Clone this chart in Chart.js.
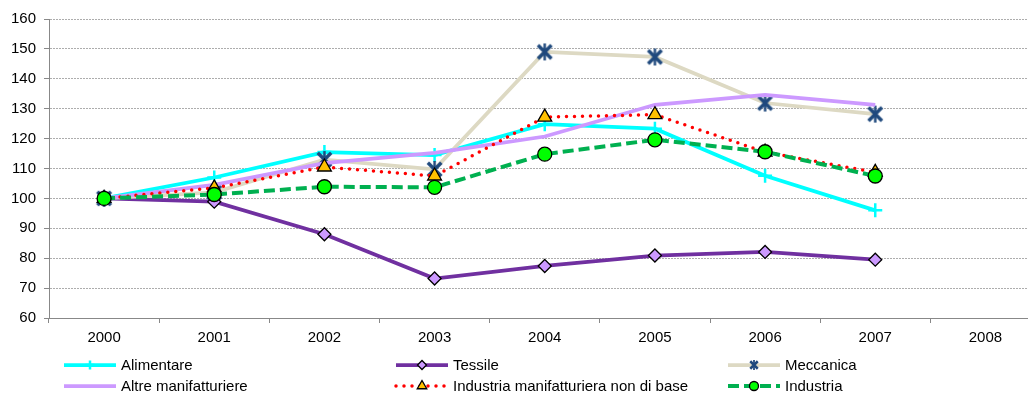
<!DOCTYPE html>
<html>
<head>
<meta charset="utf-8">
<script src="https://cdn.jsdelivr.net/npm/chart.js@4.4.1/dist/chart.umd.min.js"></script>
<style>
    html, body { margin: 0; padding: 0; background: #fff; overflow: hidden; }
    #wrap { width: 1050px; height: 394px; }
</style>
</head>
<body>
<div id="wrap"><canvas id="chart" width="1050" height="394"></canvas></div>
<script>
// Indici 2000 = 100
const years = ['2000', '2001', '2002', '2003', '2004', '2005', '2006', '2007', '2008'];
const alimentare = [100, 107, 115.5, 114.5, 124.8, 123.3, 107.6, 96];
const tessile = [100, 98.9, 88, 73.2, 77.4, 80.9, 82.1, 79.5];
const meccanica = [100, 102, 113, 109.7, 149, 147.3, 131.9, 128.2];
const altre = [100, 104.5, 111.8, 115.2, 120.7, 131.3, 134.6, 131.3];
const nonDiBase = [100, 103.5, 110.5, 107.5, 127.2, 128, 115.5, 108.7];
const industria = [100, 101.3, 103.9, 103.7, 114.8, 119.6, 115.6, 107.5];

const FONT = '"Liberation Sans", Arial, sans-serif';

// Excel style star marker (X + short vertical bar)
function makeStar(size, color, width) {
    const c = document.createElement('canvas');
    c.width = size;
    c.height = size;
    const g = c.getContext('2d');
    const m = width / 2 + 1;
    g.strokeStyle = color;
    g.lineWidth = width;
    g.lineCap = 'butt';
    g.beginPath();
    g.moveTo(m, m); g.lineTo(size - m, size - m);
    g.moveTo(size - m, m); g.lineTo(m, size - m);
    g.stroke();
    g.lineWidth = width * 0.7;
    g.beginPath();
    g.moveTo(size / 2, 1); g.lineTo(size / 2, size - 1);
    g.stroke();
    return c;
}

const starBig = makeStar(19, '#1f497d', 3.5);
const starSmall = makeStar(12, '#1f497d', 2.5);

const datasets = [
    {
        label: 'Alimentare',
        data: alimentare,
        borderColor: '#00ffff',
        borderWidth: 3.75,
        pointStyle: 'cross',
        pointRadius: 7,
        pointBorderColor: '#00ffff',
        pointBackgroundColor: '#00ffff',
        pointBorderWidth: 2.5,
        legendRadius: 4.5
    },
    {
        label: 'Tessile',
        data: tessile,
        borderColor: '#7030a0',
        borderWidth: 3.75,
        pointStyle: 'rectRot',
        pointRadius: 6.5,
        pointBorderColor: '#000',
        pointBackgroundColor: '#cc99ff',
        pointBorderWidth: 1.3,
        legendRadius: 4.5
    },
    {
        label: 'Meccanica',
        data: meccanica,
        borderColor: '#ddd9c3',
        borderWidth: 3.75,
        pointStyle: starBig,
        pointRadius: 8,
        pointBorderWidth: 0,
        legendStyle: starSmall,
        legendRadius: 5
    },
    {
        label: 'Altre manifatturiere',
        data: altre,
        borderColor: '#cc99ff',
        borderWidth: 3.75,
        pointRadius: 0,
        legendRadius: 0
    },
    {
        label: 'Industria manifatturiera non di base',
        data: nonDiBase,
        borderColor: '#ff0000',
        borderWidth: 3.5,
        borderDash: [0, 8],
        borderCapStyle: 'round',
        pointStyle: 'triangle',
        pointRadius: 8,
        pointBorderColor: '#000',
        pointBackgroundColor: '#ffc000',
        pointBorderWidth: 1.3,
        legendRadius: 5.5
    },
    {
        label: 'Industria',
        data: industria,
        borderColor: '#00b050',
        borderWidth: 4,
        borderDash: [11, 5],
        pointStyle: 'circle',
        pointRadius: 7,
        pointBorderColor: '#000',
        pointBackgroundColor: '#00ff00',
        pointBorderWidth: 1.3,
        legendRadius: 4.5
    }
];

// later series on top, as in the original
datasets.forEach((ds, i) => {
    ds.order = datasets.length - i;
    ds.fill = false;
    ds.tension = 0;
    ds.pointHoverRadius = ds.pointRadius;
});

// three-column legend under the axis
const gridLegend = {
    id: 'gridLegend',
    afterDraw(chart) {
        const ctx = chart.ctx;
        const colX = [64, 396, 728];
        const rowY = [365, 386];
        chart.data.datasets.forEach((ds, i) => {
            const x = colX[i % 3];
            const y = rowY[Math.floor(i / 3)];
            ctx.save();
            ctx.strokeStyle = ds.borderColor;
            ctx.lineWidth = ds.borderWidth;
            ctx.lineCap = ds.borderCapStyle || 'butt';
            ctx.setLineDash(ds.borderDash || []);
            ctx.beginPath();
            ctx.moveTo(x, y);
            ctx.lineTo(x + 52, y);
            ctx.stroke();
            ctx.setLineDash([]);
            if (ds.legendRadius > 0) {
                ctx.fillStyle = ds.pointBackgroundColor || '#000';
                ctx.strokeStyle = ds.pointBorderColor || '#000';
                ctx.lineWidth = ds.pointBorderWidth || 0;
                Chart.helpers.drawPoint(ctx, {
                    pointStyle: ds.legendStyle || ds.pointStyle,
                    radius: ds.legendRadius,
                    borderWidth: ds.pointBorderWidth || 0,
                    rotation: 0
                }, x + 26, y);
            }
            ctx.fillStyle = '#000';
            ctx.font = '15px ' + FONT;
            ctx.textBaseline = 'middle';
            ctx.textAlign = 'left';
            ctx.fillText(ds.label, x + 57, y + 1);
            ctx.restore();
        });
    }
};

const ctx = document.getElementById('chart').getContext('2d');
new Chart(ctx, {
    type: 'line',
    data: { labels: years, datasets: datasets },
    options: {
        responsive: false,
        animation: false,
        layout: { padding: { top: 19, right: 4, bottom: 46, left: 0 } },
        plugins: {
            legend: { display: false },
            tooltip: { enabled: false }
        },
        scales: {
            x: {
                type: 'category',
                offset: true,
                grid: {
                    offset: true,
                    drawOnChartArea: false,
                    drawTicks: true,
                    tickLength: 5,
                    tickColor: '#888'
                },
                border: { display: true, color: '#888', width: 1 },
                ticks: {
                    color: '#000',
                    padding: 6,
                    maxRotation: 0,
                    autoSkip: false,
                    font: { family: FONT, size: 15 }
                },
                afterFit: (s) => { s.height = 30; }
            },
            y: {
                min: 60,
                max: 160,
                ticks: {
                    stepSize: 10,
                    color: '#000',
                    padding: 8,
                    font: { family: FONT, size: 15 }
                },
                grid: {
                    color: '#adadad',
                    lineWidth: 1,
                    tickLength: 5,
                    tickColor: '#888',
                    tickBorderDash: []
                },
                border: { display: true, color: '#888', width: 1, dash: [2, 1] },
                afterFit: (s) => { s.width = 49; }
            }
        }
    },
    plugins: [gridLegend]
});
</script>
</body>
</html>
